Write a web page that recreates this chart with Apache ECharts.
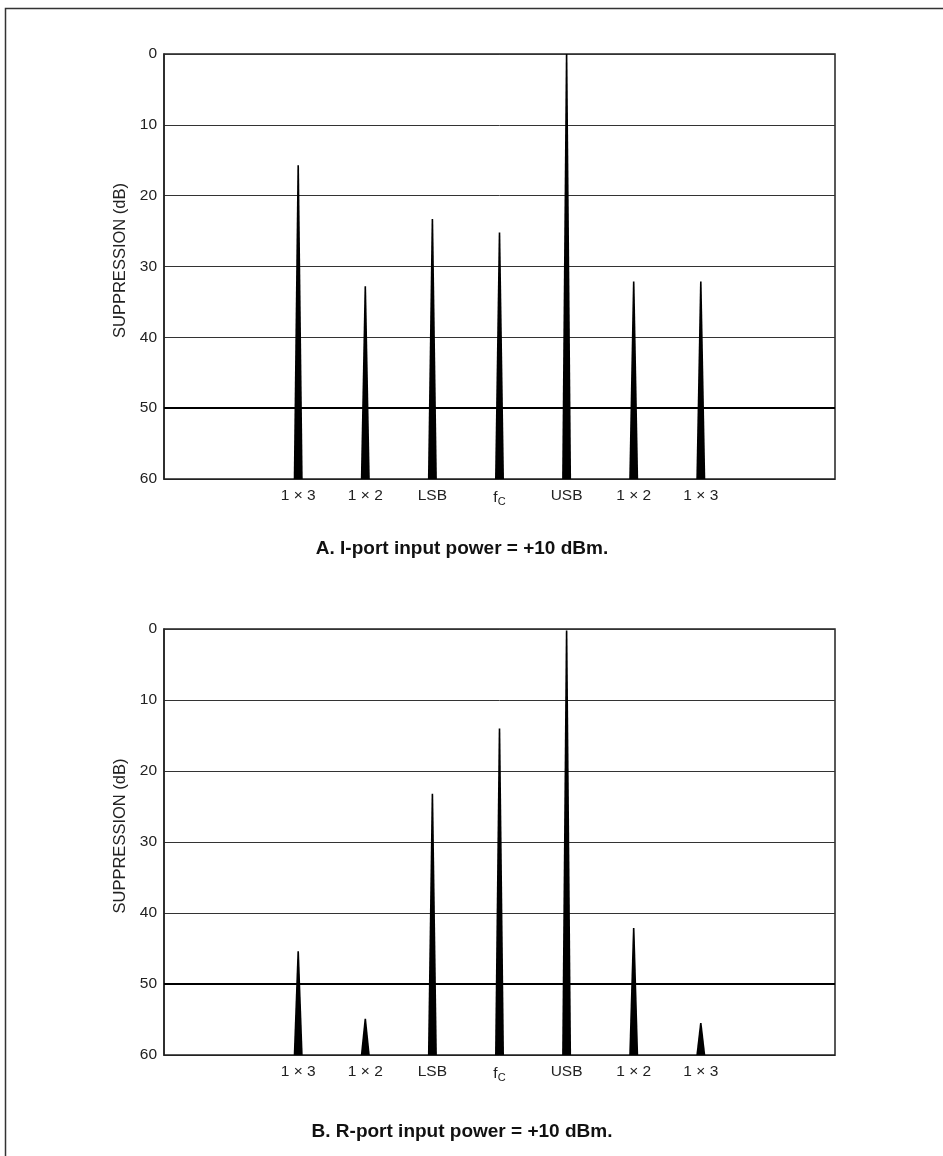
<!DOCTYPE html>
<html>
<head>
<meta charset="utf-8">
<script src="https://cdn.jsdelivr.net/npm/echarts@6/dist/echarts.min.js"></script>
<style>
html,body{margin:0;padding:0;background:#fff;}
#chart{width:943px;height:1156px;}
</style>
</head>
<body>
<div id="chart"></div>
<script>
// ---- data ----
const categories = ['1 × 3', '1 × 2', 'LSB', 'f_C', 'USB', '1 × 2', '1 × 3'];
const suppressionA = [15.7, 32.8, 23.3, 25.2, 0, 32.1, 32.1];
const suppressionB = [45.4, 54.9, 23.2, 14.0, 0.2, 42.1, 55.5];
const yTicks = [0, 10, 20, 30, 40, 50, 60];
const titleA = 'A. I-port input power = +10 dBm.';
const titleB = 'B. R-port input power = +10 dBm.';
const yName = 'SUPPRESSION (dB)';

const FONT = '"Liberation Sans", Arial, Helvetica, sans-serif';
const chart = echarts.init(document.getElementById('chart'), null, {renderer: 'canvas'});

function xAxisFor(gi) {
  return {
    type: 'value', gridIndex: gi, min: -2, max: 8, interval: 1,
    axisLine: {show: true, onZero: false, lineStyle: {color: '#222', width: 1}},
    axisTick: {show: false},
    splitLine: {show: false},
    axisLabel: {
      margin: 9, color: '#222', fontSize: 15.5, fontFamily: FONT,
      formatter: function (v) {
        const c = categories[v];
        if (c === undefined) return '';
        if (c === 'f_C') return '{f|f}{sub|C}';
        return c;
      },
      rich: {
        f: {fontSize: 15.5, fontFamily: FONT, color: '#222'},
        sub: {fontSize: 11, fontFamily: FONT, color: '#222', padding: [8, 0, 0, 0]}
      }
    }
  };
}
function yAxisFor(gi) {
  return {
    type: 'value', gridIndex: gi, inverse: true, min: yTicks[0], max: yTicks[yTicks.length - 1], interval: 10,
    name: yName, nameLocation: 'middle', nameRotate: 90, nameGap: 33,
    nameTextStyle: {fontSize: 16.5, fontFamily: FONT, color: '#222', padding: [0, 0, 0, 12]},
    axisLine: {show: true, onZero: false, lineStyle: {color: '#222', width: 1.5}},
    axisTick: {show: false},
    splitLine: {show: true, lineStyle: {color: '#333', width: 1}},
    axisLabel: {margin: 7, color: '#222', fontSize: 15.5, fontFamily: FONT}
  };
}
function spikeSeries(gi, values) {
  return {
    type: 'custom', xAxisIndex: gi, yAxisIndex: gi,
    data: values.map((v, i) => [i, v]),
    renderItem: function (params, api) {
      const x = api.value(0), v = api.value(1);
      const top = api.coord([x, v]);
      const base = api.coord([x, yTicks[yTicks.length - 1]]);
      const bw = 4.5, tw = 0.8;
      return {
        type: 'polygon',
        shape: {points: [[base[0] - bw, base[1]], [top[0] - tw, top[1]], [top[0] + tw, top[1]], [base[0] + bw, base[1]]]},
        style: {fill: '#000'}
      };
    },
    markLine: {
      silent: true, symbol: 'none', label: {show: false},
      lineStyle: {color: '#000', width: 2, type: 'solid'},
      data: [{yAxis: 50}]
    },
    z: 5
  };
}

chart.setOption({
  animation: false,
  backgroundColor: '#fff',
  textStyle: {fontFamily: FONT},
  graphic: [{
    type: 'rect', shape: {x: 5.5, y: 8.5, width: 1200, height: 1400},
    style: {fill: 'none', stroke: '#333', lineWidth: 1.5}, z: 100
  }],
  title: [
    {text: titleA, left: 462, top: 539, padding: 0, textAlign: 'center',
     textStyle: {fontSize: 19, fontWeight: 'bold', fontFamily: FONT, color: '#111'}},
    {text: titleB, left: 462, top: 1122, padding: 0, textAlign: 'center',
     textStyle: {fontSize: 19, fontWeight: 'bold', fontFamily: FONT, color: '#111'}}
  ],
  grid: [
    {left: 164, top: 54, width: 671, height: 425, show: true, borderColor: '#222', borderWidth: 1.5, backgroundColor: 'transparent'},
    {left: 164, top: 629, width: 671, height: 426, show: true, borderColor: '#222', borderWidth: 1.5, backgroundColor: 'transparent'}
  ],
  xAxis: [xAxisFor(0), xAxisFor(1)],
  yAxis: [yAxisFor(0), yAxisFor(1)],
  series: [spikeSeries(0, suppressionA), spikeSeries(1, suppressionB)]
});
</script>
</body>
</html>
